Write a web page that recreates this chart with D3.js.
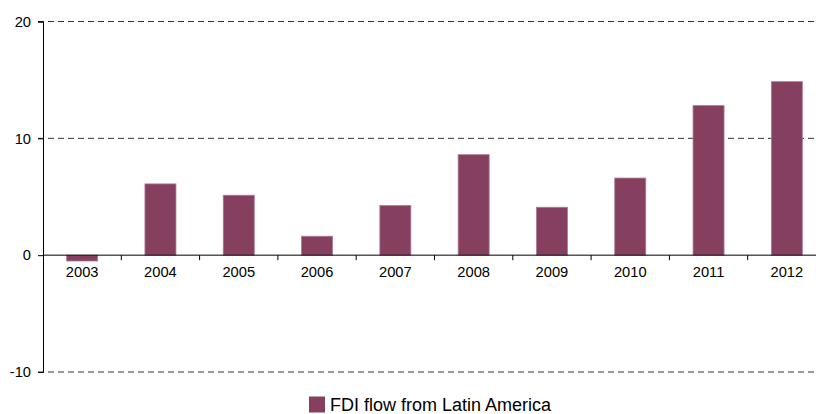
<!DOCTYPE html>
<html><head><meta charset="utf-8">
<script src="https://cdn.jsdelivr.net/npm/d3@7"></script>
<style>body{margin:0;background:#fff;}svg{display:block;font-family:"Liberation Sans",Arial,sans-serif;}</style>
</head><body>
<svg id="c" width="816" height="414"></svg>
<script>
const years = ["2003","2004","2005","2006","2007","2008","2009","2010","2011","2012"];
const fdiValues = [-0.5, 6.1, 5.13, 1.62, 4.25, 8.6, 4.1, 6.6, 12.8, 14.85];
const yTicks = [-10, 0, 10, 20];
const seriesName = "FDI flow from Latin America";

const svg = d3.select("#c");
const xb = d3.scaleBand().domain(years).range([43, 826]);
const y = d3.scaleLinear().domain([-10, 20]).range([372, 21.5]);
const FONT = "Liberation Sans, Arial, sans-serif";

// gridlines
svg.append("g").selectAll("line").data(yTicks.filter(d => d !== 0)).join("line")
  .attr("x1", 38).attr("x2", 816).attr("y1", d => y(d)).attr("y2", d => y(d))
  .attr("stroke", "#333").attr("stroke-width", 1).attr("stroke-dasharray", "6,4");

// bars
svg.append("g").selectAll("rect").data(years).join("rect")
  .attr("x", (d) => xb(d) + xb.bandwidth()/2 - 15.5)
  .attr("width", 31)
  .attr("y", (d, i) => y(Math.max(0, fdiValues[i])))
  .attr("height", (d, i) => Math.abs(y(fdiValues[i]) - y(0)))
  .attr("fill", "#853f5f").attr("stroke", "#b07892").attr("stroke-width", 0.8);

// y axis
const yAxis = d3.axisLeft(y).tickValues(yTicks).tickSize(5).tickPadding(7).tickFormat(d => String(d));
const yg = svg.append("g").attr("transform", "translate(43,0)").call(yAxis);
yg.select(".domain").attr("stroke", "#000");
yg.selectAll("text").attr("font-size", 14.7).attr("fill", "#000").attr("font-family", FONT);

// x axis at zero
const xAxis = d3.axisBottom(xb).tickSize(0).tickPadding(11);
const xg = svg.append("g").attr("transform", `translate(0,${y(0)})`).call(xAxis);
xg.select(".domain").attr("d", `M43,0H816`).attr("stroke", "#000");
xg.selectAll("text").attr("font-size", 14.7).attr("fill", "#000").attr("font-family", FONT);
// category boundary ticks
svg.append("g").selectAll("line").data(years.slice(1)).join("line")
  .attr("x1", d => xb(d)).attr("x2", d => xb(d))
  .attr("y1", y(0)).attr("y2", y(0) + 5).attr("stroke", "#000");

// legend
const lg = svg.append("g").attr("transform", "translate(309,396.5)");
lg.append("rect").attr("width", 16).attr("height", 16).attr("fill", "#853f5f");
lg.append("text").attr("x", 21).attr("y", 14.2).attr("font-size", 18).attr("fill", "#000").attr("font-family", FONT).text(seriesName);
</script>
</body></html>
